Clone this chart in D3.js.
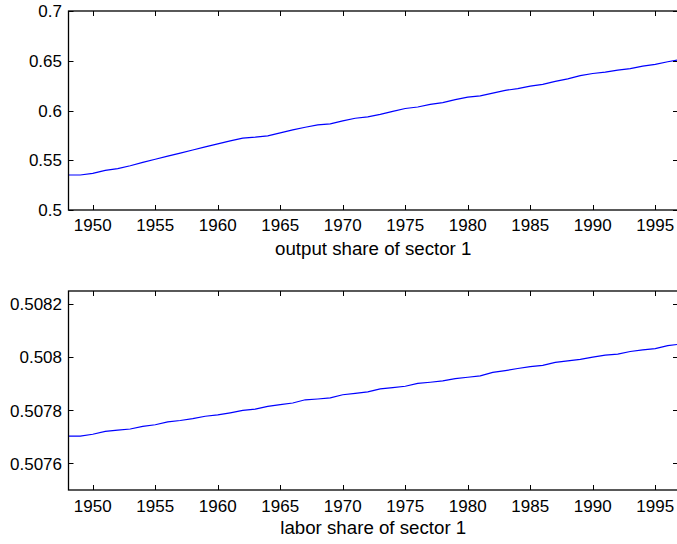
<!DOCTYPE html>
<html>
<head>
<meta charset="utf-8">
<script src="https://cdn.jsdelivr.net/npm/d3@7"></script>
<style>
  html, body { margin: 0; padding: 0; background: #fff; }
  svg { display: block; }
  text { font-family: "Liberation Sans", Arial, Helvetica, sans-serif; fill: #000; }
</style>
</head>
<body>
<svg id="chart" width="677" height="544"></svg>
<script>
const years = d3.range(1948, 1998);
const outputShare = [
  0.5352, 0.5352, 0.5368, 0.5399, 0.5415, 0.5445, 0.5478, 0.5510, 0.5542, 0.5572,
  0.5603, 0.5635, 0.5665, 0.5695, 0.5722, 0.5732, 0.5745, 0.5775, 0.5805, 0.5832,
  0.5855, 0.5865, 0.5895, 0.5922, 0.5936, 0.5961, 0.5992, 0.6020, 0.6035, 0.6062,
  0.6080, 0.6110, 0.6135, 0.6147, 0.6175, 0.6202, 0.6220, 0.6245, 0.6263, 0.6292,
  0.6318, 0.6350, 0.6372, 0.6386, 0.6405, 0.6420, 0.6446, 0.6464, 0.6490, 0.6512
];
const laborShare = [
  0.507703, 0.507703, 0.507710, 0.507721, 0.507726, 0.507730, 0.507740, 0.507746, 0.507757, 0.507762,
  0.507769, 0.507778, 0.507783, 0.507791, 0.507800, 0.507805, 0.507815, 0.507822, 0.507828, 0.507840,
  0.507843, 0.507847, 0.507859, 0.507864, 0.507870, 0.507881, 0.507886, 0.507891, 0.507902, 0.507906,
  0.507911, 0.507920, 0.507925, 0.507930, 0.507943, 0.507950, 0.507958, 0.507965, 0.507970, 0.507981,
  0.507987, 0.507992, 0.508001, 0.508008, 0.508012, 0.508022, 0.508028, 0.508033, 0.508044, 0.508050
];
const xTicks = [1950, 1955, 1960, 1965, 1970, 1975, 1980, 1985, 1990, 1995];
const topYTicks = [0.5, 0.55, 0.6, 0.65, 0.7];
const topYLabels = ["0.5", "0.55", "0.6", "0.65", "0.7"];
const botYTicks = [0.5076, 0.5078, 0.508, 0.5082];
const botYLabels = ["0.5076", "0.5078", "0.508", "0.5082"];
const titles = ["output share of sector 1", "labor share of sector 1"];

const svg = d3.select("#chart");
const left = 68.5, right = 678;
const x = d3.scaleLinear().domain([1948.06, 1996.82]).range([left, right]);
const fs = 17, fsTitle = 18.7;

const panels = [
  { values: outputShare, yDomain: [0.5, 0.7], top: 11, bottom: 210,
    ticks: topYTicks, labels: topYLabels, title: titles[0], tickY: 231, titleY: 254.5 },
  { values: laborShare, yDomain: [0.5075, 0.50825], top: 291, bottom: 490,
    ticks: botYTicks, labels: botYLabels, title: titles[1], tickY: 511.5, titleY: 533.5 }
];

panels.forEach((p, i) => {
  const y = d3.scaleLinear().domain(p.yDomain).range([p.bottom, p.top]);
  const g = svg.append("g");
  const clipId = "clip" + i;
  svg.append("clipPath").attr("id", clipId)
    .append("rect").attr("x", left).attr("y", p.top)
    .attr("width", right - left).attr("height", p.bottom - p.top);

  const line = d3.line().x((d, j) => x(years[j])).y(d => y(d));
  g.append("path").datum(p.values)
    .attr("clip-path", `url(#${clipId})`)
    .attr("fill", "none").attr("stroke", "#0000ff").attr("stroke-width", 1.2)
    .attr("d", line);

  g.append("rect").attr("x", left).attr("y", p.top)
    .attr("width", right - left).attr("height", p.bottom - p.top)
    .attr("fill", "none").attr("stroke", "#000").attr("stroke-width", 1.3);

  const tl = 5;
  xTicks.forEach(t => {
    const xx = Math.round(x(t)) + 0.5;
    g.append("line").attr("x1", xx).attr("x2", xx).attr("y1", p.bottom).attr("y2", p.bottom - tl)
      .attr("stroke", "#000").attr("stroke-width", 1);
    g.append("line").attr("x1", xx).attr("x2", xx).attr("y1", p.top).attr("y2", p.top + tl)
      .attr("stroke", "#000").attr("stroke-width", 1);
    g.append("text").attr("x", x(t)).attr("y", p.tickY)
      .attr("text-anchor", "middle").attr("font-size", fs).text(String(t));
  });
  p.ticks.forEach((t, k) => {
    const yy = Math.round(y(t)) + 0.5;
    g.append("line").attr("x1", left).attr("x2", left + tl).attr("y1", yy).attr("y2", yy)
      .attr("stroke", "#000").attr("stroke-width", 1);
    g.append("line").attr("x1", right).attr("x2", right - tl).attr("y1", yy).attr("y2", yy)
      .attr("stroke", "#000").attr("stroke-width", 1);
    g.append("text").attr("x", 62).attr("y", y(t)).attr("dy", "0.36em")
      .attr("text-anchor", "end").attr("font-size", fs).text(p.labels[k]);
  });
  g.append("text").attr("x", (left + right) / 2).attr("y", p.titleY)
    .attr("text-anchor", "middle").attr("font-size", fsTitle).text(p.title);
});
</script>
</body>
</html>
